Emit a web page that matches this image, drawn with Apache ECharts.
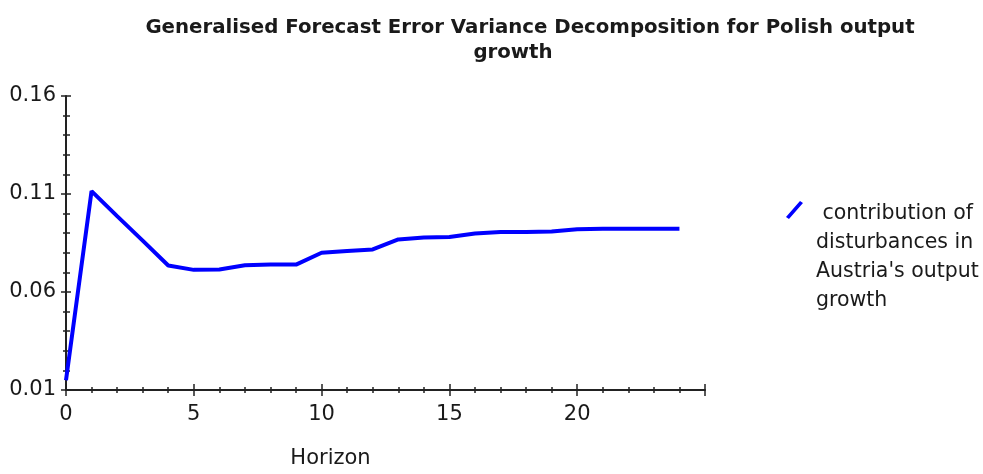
<!DOCTYPE html>
<html>
<head>
<meta charset="utf-8">
<script src="https://cdn.jsdelivr.net/npm/echarts@6/dist/echarts.min.js"></script>
<style>html,body{margin:0;padding:0;background:#fff;}#c{width:983px;height:474px;}</style>
</head>
<body>
<div id="c"></div>
<script>
var titleLine1 = 'Generalised Forecast Error Variance Decomposition for Polish output';
var titleLine2 = 'growth';
var seriesName = ' contribution of\ndisturbances in\nAustria\'s output\ngrowth';
var xAxisName = 'Horizon';
var horizon = [0,1,2,3,4,5,6,7,8,9,10,11,12,13,14,15,16,17,18,19,20,21,22,23,24];
var contribution = [0.0150,0.1115,0.0987,0.0862,0.0735,0.0713,0.0715,0.0736,0.0740,0.0740,0.0800,0.0809,0.0817,0.0868,0.0878,0.0881,0.0898,0.0906,0.0906,0.0909,0.0920,0.0923,0.0923,0.0923,0.0923];
var yTicks = [0.01,0.06,0.11,0.16];
var xTicks = [0,5,10,15,20,25];

var FONT = 'DejaVu Sans';
var TXT = '#1a1a1a';
var AX = '#222';

var data = horizon.map(function(h,i){ return [h, contribution[i]]; });

var chart = echarts.init(document.getElementById('c'));
var xBase = { type:'value', min:xTicks[0], max:xTicks[xTicks.length-1], interval:5, position:'bottom', splitLine:{show:false} };
var yBase = { type:'value', min:yTicks[0], max:yTicks[yTicks.length-1], interval:0.05, position:'left', splitLine:{show:false} };

chart.setOption({
  animation:false,
  backgroundColor:'#fff',
  title:[
    { text:titleLine1, left:525, top:13, textAlign:'center',
      textStyle:{fontFamily:FONT, fontWeight:'bold', fontSize:19.75, color:TXT} },
    { text:titleLine2, left:508, top:38, textAlign:'center',
      textStyle:{fontFamily:FONT, fontWeight:'bold', fontSize:19.75, color:TXT} }
  ],
  legend:{
    left:781, top:194, orient:'vertical',
    itemWidth:25, itemHeight:116,
    icon:'path://M0,20L14,4L17,6L3,22Z M25,116L25.01,116L25,116.01Z',
    itemStyle:{color:'#0000ff'},
    textStyle:{fontFamily:FONT, fontSize:20.5, color:TXT, lineHeight:29},
    data:[seriesName]
  },
  grid:{left:66, right:278, top:96, bottom:81, containLabel:false},
  xAxis:[
    Object.assign({}, xBase, {
      name:xAxisName, nameLocation:'middle', nameGap:58,
      nameTextStyle:{fontFamily:FONT, fontSize:21, color:TXT, padding:[0,110,0,0]},
      axisLine:{show:true, lineStyle:{color:AX, width:2}},
      axisTick:{show:true, inside:false, length:6, lineStyle:{color:AX, width:1.5}},
      minorTick:{show:true, splitNumber:5, length:3, lineStyle:{color:AX, width:1.5}},
      axisLabel:{fontFamily:FONT, fontSize:21, color:TXT, margin:14,
        formatter:function(v){ return v === 25 ? '' : String(v); }}
    }),
    Object.assign({}, xBase, {
      axisLine:{show:false},
      axisTick:{show:true, inside:true, length:6, lineStyle:{color:AX, width:1.5}},
      minorTick:{show:true, splitNumber:5, length:3, lineStyle:{color:AX, width:1.5}},
      axisLabel:{show:false}
    })
  ],
  yAxis:[
    Object.assign({}, yBase, {
      axisLine:{show:true, lineStyle:{color:AX, width:2}},
      axisTick:{show:true, inside:false, length:5, lineStyle:{color:AX, width:1.5}},
      minorTick:{show:true, splitNumber:5, length:3, lineStyle:{color:AX, width:1.5}},
      axisLabel:{fontFamily:FONT, fontSize:21, color:TXT, margin:10,
        formatter:function(v){ return v.toFixed(2); }}
    }),
    Object.assign({}, yBase, {
      offset:0,
      axisLine:{show:false},
      axisTick:{show:true, inside:true, length:5, lineStyle:{color:AX, width:1.5}},
      minorTick:{show:true, splitNumber:5, length:4, lineStyle:{color:AX, width:1.5}},
      axisLabel:{show:false}
    })
  ],
  series:[{
    name:seriesName, type:'line', xAxisIndex:0, yAxisIndex:0,
    data:data, showSymbol:false, symbol:'none',
    lineStyle:{color:'#0000ff', width:4},
    itemStyle:{color:'#0000ff'}
  }]
});
</script>
</body>
</html>
